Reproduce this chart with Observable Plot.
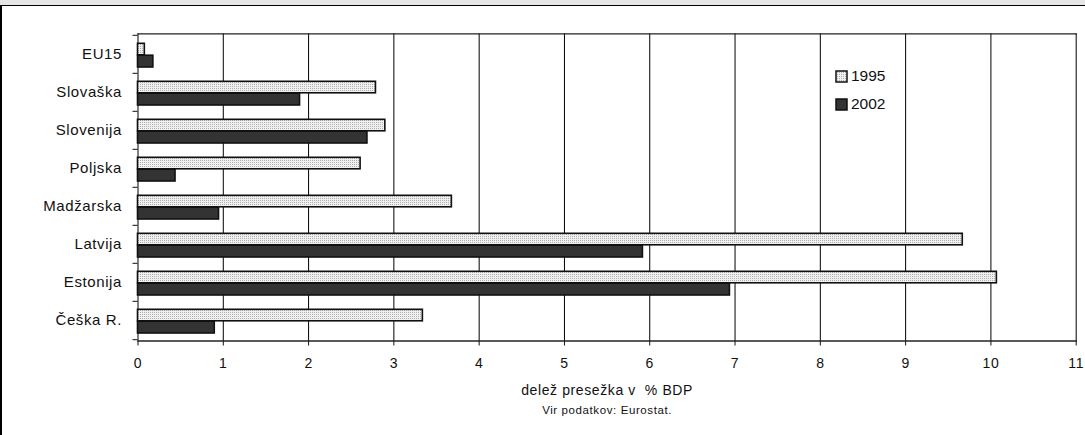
<!DOCTYPE html>
<html><head><meta charset="utf-8">
<script src="https://cdn.jsdelivr.net/npm/d3@7"></script>
<script src="https://cdn.jsdelivr.net/npm/@observablehq/plot@0.6"></script>
<style>
body{margin:0;background:#fff;font-family:"Liberation Sans",Arial,sans-serif;}
#wrap{position:relative;width:1085px;height:435px;overflow:hidden;}
#topband{position:absolute;left:0;top:0;width:1085px;height:4.5px;background:#e6e6e6;border-bottom:1.5px solid #000;}
#leftline{position:absolute;left:0;top:5px;width:1.6px;height:430px;background:#000;}
.leg{position:absolute;font-size:15.5px;color:#111;display:flex;align-items:center;gap:3px;}
</style></head>
<body><div id="wrap"><div id="chart"></div><div id="topband"></div><div id="leftline"></div></div>
<script>
const categories = ["EU15","Slovaška","Slovenija","Poljska","Madžarska","Latvija","Estonija","Češka R."];
const series = ["1995","2002"];
const v1995 = [0.08, 2.79, 2.90, 2.61, 3.68, 9.67, 10.07, 3.34];
const v2002 = [0.18, 1.90, 2.69, 0.44, 0.95, 5.92, 6.94, 0.90];
const xTicks = [0,1,2,3,4,5,6,7,8,9,10,11];
const xLabel = "delež presežka v  % BDP";
const caption = "Vir podatkov: Eurostat.";

const rows = categories.map((c,i)=>({cat:c, v1995:v1995[i], v2002:v2002[i]}));
const W=1085,H=435, mTop=33.3, mLeft=137.5, mRight=9.3, plotBottom=340.5;
const bw=(plotBottom-mTop)/categories.length;

const plot = Plot.plot({
  width:W, height:H, marginTop:mTop, marginLeft:mLeft, marginRight:mRight, marginBottom:H-plotBottom,
  style:{fontFamily:'"Liberation Sans", Arial, sans-serif', background:"#fff", color:"#111"},
  x:{domain:[0,11]},
  y:{domain:categories, padding:0},
  marks:[
    Plot.ruleX(xTicks,{stroke:"#000",strokeWidth:1}),
    Plot.frame({anchor:"top",stroke:"#222",strokeWidth:1.2}),
    Plot.frame({anchor:"bottom",stroke:"#222",strokeWidth:1.5}),
    Plot.barX(rows,{x:"v1995",y:"cat",insetTop:8.3,insetBottom:18.2,fill:"url(#p95)",stroke:"#111",strokeWidth:1.6}),
    Plot.barX(rows,{x:"v2002",y:"cat",insetTop:20.2,insetBottom:6,fill:"#333",stroke:"#111",strokeWidth:1.6}),
    Plot.axisX({ticks:xTicks,tickSize:5,tickPadding:12,fontSize:14,label:null,tickFormat:d=>String(d)}),
    Plot.axisY({tickSize:0,tickPadding:16,fontSize:15,label:null}),
    Plot.axisY({tickSize:5,tickFormat:()=>"",dy:-bw/2,label:null}),
    Plot.axisY({ticks:[categories[categories.length-1]],tickSize:5,tickFormat:()=>"",dy:bw/2,label:null}),
    Plot.text([xLabel],{frameAnchor:"bottom",dy:54,fontSize:14}),
    Plot.text([caption],{frameAnchor:"bottom",dy:73,fontSize:11.5})
  ]
});
const ns="http://www.w3.org/2000/svg";
const defs=document.createElementNS(ns,"defs");
defs.innerHTML='<pattern id="p95" width="2" height="2" patternUnits="userSpaceOnUse"><rect width="2" height="2" fill="#f0f0f0"/><rect width="1" height="1" fill="#b0b0b0"/></pattern>';
plot.insertBefore(defs, plot.firstChild);
plot.querySelectorAll("text").forEach(t=>t.style.letterSpacing="0.6px");
document.getElementById("chart").appendChild(plot);

// legend
const wrap=document.getElementById("wrap");
const legFills={"1995":"url(#p95)","2002":"#333"};
series.forEach((s,i)=>{
  const d=document.createElement("div");
  d.className="leg";
  d.style.left="835px"; d.style.top=(67+i*28)+"px";
  d.innerHTML=`<svg width="13" height="13"><defs><pattern id="lp${i}" width="2" height="2" patternUnits="userSpaceOnUse"><rect width="2" height="2" fill="#f0f0f0"/><rect width="1" height="1" fill="#b0b0b0"/></pattern></defs><rect x="1" y="1" width="11" height="11" fill="${i===0?`url(#lp${i})`:legFills[s]}" stroke="#111" stroke-width="1.5"/></svg><span>${s}</span>`;
  wrap.appendChild(d);
});
</script></body></html>
